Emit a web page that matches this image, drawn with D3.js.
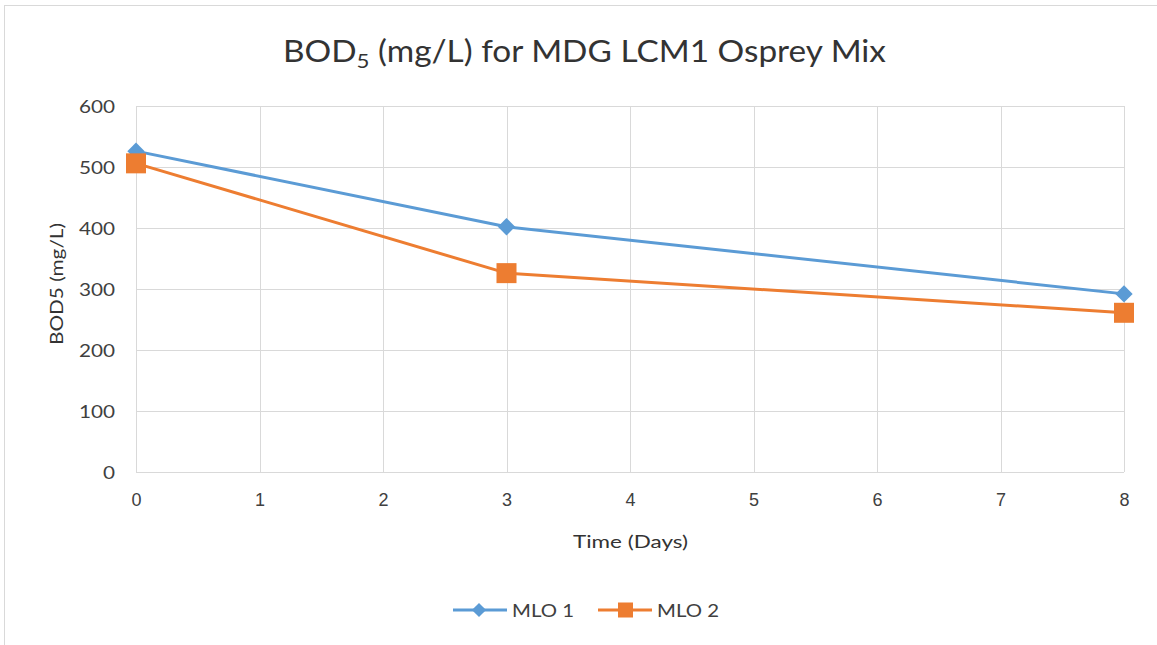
<!DOCTYPE html>
<html>
<head>
<meta charset="utf-8">
<script src="https://cdn.jsdelivr.net/npm/d3@7"></script>
<style>
  html, body { margin: 0; padding: 0; background: #fff; }
  svg { display: block; font-family: Lato, "Open Sans", sans-serif; }
</style>
</head>
<body>
<svg id="chart" width="1157" height="645"></svg>
<script>
// Sampling days and measured BOD5 values
const days = [0, 3, 8];
const mlo1 = [526, 402, 292];
const mlo2 = [506, 326, 261];
const seriesNames = ["MLO 1", "MLO 2"];
const seriesColors = ["#5B9BD5", "#ED7D31"];
const xTicks = [0, 1, 2, 3, 4, 5, 6, 7, 8];
const yTicks = [0, 100, 200, 300, 400, 500, 600];

const svg = d3.select("#chart");
const W = 1157, H = 645;
const margin = { left: 136, right: 33, top: 106, bottom: 173 };
const textColor = "#404040";

// chart frame
svg.append("rect").attr("x", 4.5).attr("y", 5.5).attr("width", W + 10).attr("height", H + 10)
  .attr("fill", "#fff").attr("stroke", "#d9d9d9").attr("stroke-width", 1);

const x = d3.scaleLinear().domain([0, 8]).range([margin.left, W - margin.right]);
const y = d3.scaleLinear().domain([0, 600]).range([H - margin.bottom, margin.top]);

// gridlines
svg.append("g").selectAll("line").data(yTicks).join("line")
  .attr("x1", x(0)).attr("x2", x(8))
  .attr("y1", d => Math.round(y(d)) + 0.5).attr("y2", d => Math.round(y(d)) + 0.5)
  .attr("stroke", "#d9d9d9").attr("stroke-width", 1);
svg.append("g").selectAll("line").data(xTicks).join("line")
  .attr("x1", d => Math.round(x(d)) + 0.5).attr("x2", d => Math.round(x(d)) + 0.5)
  .attr("y1", y(600)).attr("y2", y(0))
  .attr("stroke", "#d9d9d9").attr("stroke-width", 1);

// axes (labels only)
const yAxis = svg.append("g").attr("transform", `translate(${x(0) - 21},0)`)
  .call(d3.axisLeft(y).tickValues(yTicks).tickSize(0).tickPadding(0));
yAxis.select(".domain").remove();
yAxis.selectAll("text").attr("font-size", 18).attr("fill", textColor)
  .attr("font-family", "Lato, sans-serif").attr("dy", "0.36em")
  .attr("transform", "scale(1.12,1)");
yAxis.selectAll(".tick").each(function () {
  // keep right alignment after the horizontal stretch
  d3.select(this).select("text").attr("transform", null)
    .attr("textLength", function () { return this.getComputedTextLength() * 1.15; })
    .attr("lengthAdjust", "spacingAndGlyphs");
});

const xAxis = svg.append("g").attr("transform", `translate(0,${y(0) + 28})`)
  .call(d3.axisBottom(x).tickValues(xTicks).tickSize(0).tickPadding(0).tickFormat(d3.format("d")));
xAxis.select(".domain").remove();
xAxis.selectAll("text").attr("font-size", 18).attr("fill", textColor).attr("dy", "0.36em");

// title with subscript
const title = svg.append("text").attr("x", 283).attr("y", 62)
  .attr("font-size", 30).attr("fill", "#333")
  .attr("textLength", 603).attr("lengthAdjust", "spacingAndGlyphs");
title.append("tspan").text("BOD");
title.append("tspan").text("5").attr("font-size", 20).attr("dy", 6);
title.append("tspan").text(" (mg/L) for MDG LCM1 Osprey Mix").attr("dy", -6);

// axis titles
svg.append("text").attr("x", 573).attr("y", 548)
  .attr("font-size", 18).attr("fill", "#333")
  .attr("textLength", 115).attr("lengthAdjust", "spacingAndGlyphs").text("Time (Days)");
svg.append("text").attr("transform", "translate(63,345) rotate(-90)")
  .attr("font-size", 18).attr("fill", "#333")
  .attr("textLength", 122).attr("lengthAdjust", "spacingAndGlyphs").text("BOD5 (mg/L)");

const line = d3.line().x(d => x(d[0])).y(d => y(d[1]));
const data = [mlo1, mlo2].map(vals => days.map((d, i) => [d, vals[i]]));

data.forEach((pts, si) => {
  svg.append("path").datum(pts).attr("d", line).attr("fill", "none")
    .attr("stroke", seriesColors[si]).attr("stroke-width", 3).attr("stroke-linejoin", "round");
});
// MLO 1 markers: diamonds
svg.append("g").selectAll("path").data(data[0]).join("path")
  .attr("transform", d => `translate(${x(d[0])},${y(d[1])}) rotate(45)`)
  .attr("d", d3.symbol().type(d3.symbolSquare).size(150)())
  .attr("fill", seriesColors[0]);
// MLO 2 markers: squares
svg.append("g").selectAll("rect").data(data[1]).join("rect")
  .attr("x", d => x(d[0]) - 10).attr("y", d => y(d[1]) - 10)
  .attr("width", 20).attr("height", 20).attr("fill", seriesColors[1]);

// legend
const legend = svg.append("g").attr("transform", "translate(0,610)");
const legendX = [453, 598];
seriesNames.forEach((name, i) => {
  const g = legend.append("g").attr("transform", `translate(${legendX[i]},0)`);
  g.append("line").attr("x1", 0).attr("x2", 54).attr("y1", 0).attr("y2", 0)
    .attr("stroke", seriesColors[i]).attr("stroke-width", 3);
  if (i === 0) {
    g.append("path").attr("transform", "translate(26,0) rotate(45)")
      .attr("d", d3.symbol().type(d3.symbolSquare).size(100)()).attr("fill", seriesColors[i]);
  } else {
    g.append("rect").attr("x", 20).attr("y", -7.5).attr("width", 15).attr("height", 15)
      .attr("fill", seriesColors[i]);
  }
  g.append("text").attr("x", 59).attr("y", 7).attr("font-size", 18).attr("fill", textColor)
    .attr("textLength", 62).attr("lengthAdjust", "spacingAndGlyphs").text(name);
});
</script>
</body>
</html>
